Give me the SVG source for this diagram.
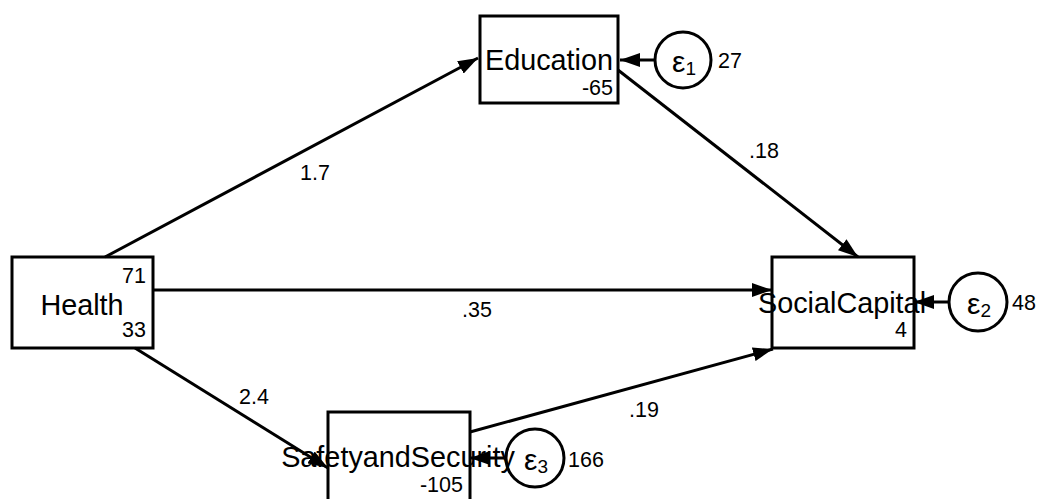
<svg xmlns="http://www.w3.org/2000/svg" width="1038" height="499" viewBox="0 0 1038 499">
<style>
.box{fill:#fff;stroke:#000;stroke-width:3}
.err{fill:#fff;stroke:#000;stroke-width:3}
.lbl{font-family:"Liberation Sans",Arial,sans-serif;font-size:28.8px;fill:#000;text-anchor:middle}
.num{font-family:"Liberation Sans",Arial,sans-serif;font-size:21.5px;fill:#000;text-anchor:end}
.coef{font-family:"Liberation Sans",Arial,sans-serif;font-size:21.5px;fill:#000;text-anchor:start}
.eps{font-family:"Liberation Sans",Arial,sans-serif;font-size:30px;fill:#000}
.sub{font-family:"Liberation Sans",Arial,sans-serif;font-size:19px;fill:#000}
.path{stroke:#000;stroke-width:3;fill:none;marker-end:url(#ah)}
</style>
<defs>
<marker id="ah" viewBox="0 0 20 14" refX="20" refY="7" markerWidth="20" markerHeight="14" markerUnits="userSpaceOnUse" orient="auto">
<path d="M0,0 L20,7 L0,14 Z" fill="#000"/>
</marker>
</defs>
<rect width="1038" height="499" fill="#fff"/>
<g id="Health">
<rect class="box" x="12" y="257" width="141" height="91"/>
<text class="lbl" x="82" y="315">Health</text>
<text class="num" x="146" y="283">71</text>
<text class="num" x="146" y="337">33</text>
</g>
<g id="Education">
<rect class="box" x="480" y="16" width="138" height="87"/>
<text class="lbl" x="549" y="70">Education</text>
<text class="num" x="613" y="95">-65</text>
</g>
<g id="SocialCapital">
<rect class="box" x="772" y="257" width="142" height="91"/>
<text class="num" x="907" y="337">4</text>
</g>
<g id="SafetyandSecurity">
<rect class="box" x="328" y="412" width="142" height="92"/>
<text class="num" x="463" y="492">-105</text>
</g>
<g id="e1">
<circle class="err" cx="683" cy="60" r="28"/>
<text class="eps" x="672" y="72">ε<tspan class="sub" dy="3">1</tspan></text>
<text class="coef" x="718" y="68">27</text>
</g>
<g id="e2">
<circle class="err" cx="978" cy="302" r="29"/>
<text class="eps" x="967" y="314">ε<tspan class="sub" dy="3">2</tspan></text>
<text class="coef" x="1012" y="310">48</text>
</g>
<g id="e3">
<circle class="err" cx="535" cy="458" r="29"/>
<text class="eps" x="524" y="470">ε<tspan class="sub" dy="3">3</tspan></text>
<text class="coef" x="568" y="467">166</text>
</g>
<g id="connectors">
<line class="path" x1="105" y1="257" x2="478" y2="58"/>
<line class="path" x1="618" y1="70" x2="858" y2="257"/>
<line class="path" x1="153" y1="290" x2="772" y2="290"/>
<line class="path" x1="135" y1="348" x2="328" y2="468"/>
<line class="path" x1="470" y1="432" x2="773" y2="349"/>
<line class="path" x1="655" y1="60" x2="620" y2="60"/>
<line class="path" x1="949" y1="302" x2="914" y2="302"/>
<line class="path" x1="506" y1="458" x2="470" y2="458"/>
<text class="coef" x="300" y="180">1.7</text>
<text class="coef" x="749" y="158">.18</text>
<text class="coef" x="462" y="317">.35</text>
<text class="coef" x="239" y="404">2.4</text>
<text class="coef" x="629" y="417">.19</text>
</g>
<text class="lbl" x="842" y="313">SocialCapital</text>
<text class="lbl" x="398" y="467">SafetyandSecurity</text>
</svg>
